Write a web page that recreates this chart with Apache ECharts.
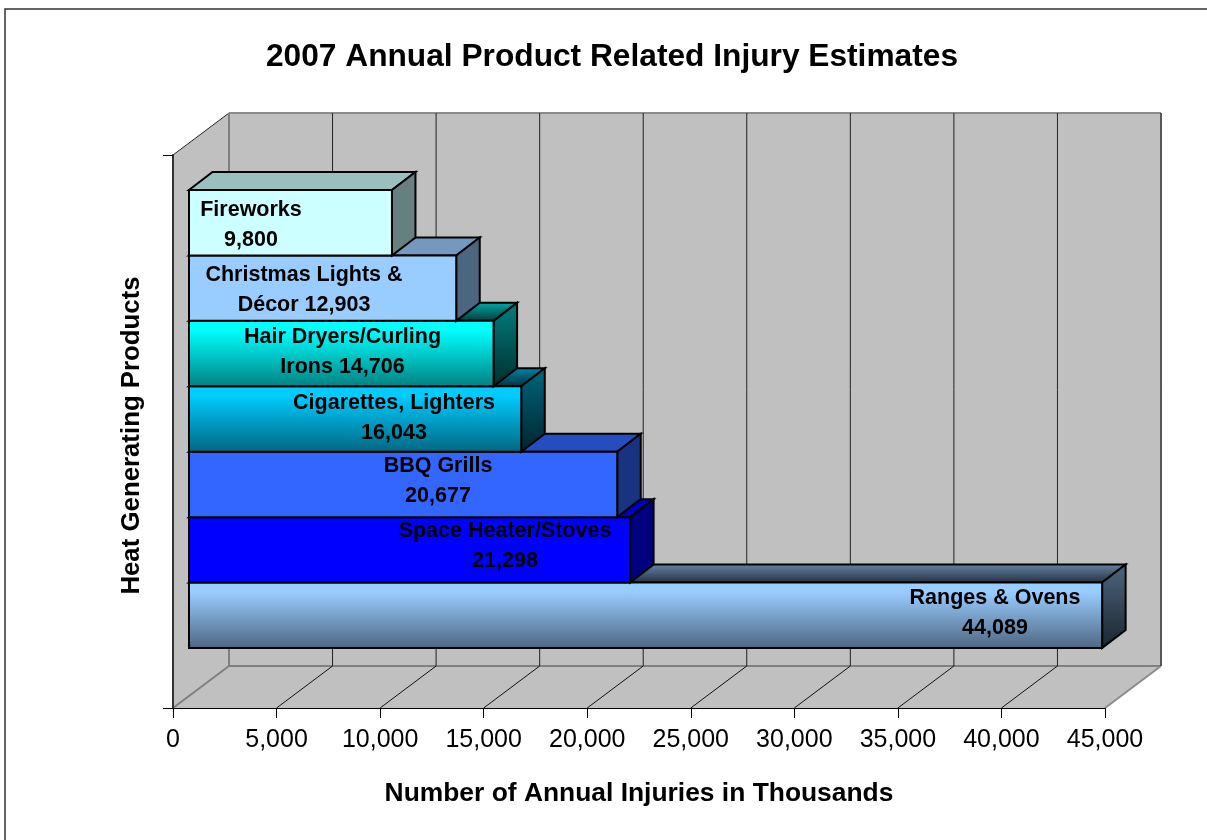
<!DOCTYPE html>
<html>
	<head>
		<meta charset="utf-8" />
		<title>2007 Annual Product Related Injury Estimates</title>
		<style type="text/css">
			body,
			html,
			#chart {
				width: 100%;
				height: 100%;
				overflow: hidden;
				margin: 0;
				background: #fff;
			}
		</style>
	</head>
	<body>
		<div id="chart"></div>
		<script src="https://cdn.jsdelivr.net/npm/echarts@6/dist/echarts.min.js"></script>
		<script>
			// data, bottom bar first so the upper bars paint over the top faces below them
			var categories = [
				'Ranges & Ovens\n',
				'Space Heater/Stoves\n',
				'BBQ Grills\n',
				'Cigarettes, Lighters\n',
				'Hair Dryers/Curling\nIrons ',
				'Christmas Lights &\nDécor ',
				'Fireworks\n'
			];
			var injuries = [44089, 21298, 20677, 16043, 14706, 12903, 9800];
			var xTicks = [0, 5000, 10000, 15000, 20000, 25000, 30000, 35000, 40000, 45000];

			// label placement inside each bar, the labels were dragged by hand in the original
			var labelOffsetX = [806, 316, 249, 205, 153.5, 115, 62];
			var labelOffsetY = [-2.5, -4, -3, -0.5, -1.5, 1.5, 2.5];

			// bar colours: [front top, front bottom]
			var barColors = [
				['#99CCFF', '#4D6680'],
				['#0000FF', '#0000FF'],
				['#3366FF', '#3366FF'],
				['#00CCFF', '#006680'],
				['#00FFFF', '#008080'],
				['#99CCFF', '#99CCFF'],
				['#CCFFFF', '#CCFFFF']
			];

			var WALL_DX = 56;
			var WALL_DY = -42;
			var BAR_DX = 23.5;
			var BAR_DY = -18;

			function shade(hex, k) {
				var n = parseInt(hex.slice(1), 16);
				var r = Math.round((n >> 16) * k);
				var g = Math.round(((n >> 8) & 255) * k);
				var b = Math.round((n & 255) * k);
				return 'rgb(' + r + ',' + g + ',' + b + ')';
			}

			function grad(top, bottom, start) {
				return new echarts.graphic.LinearGradient(0, 0, 0, 1, [
					{ offset: 0, color: top },
					{ offset: start, color: top },
					{ offset: 1, color: bottom }
				]);
			}

			function poly(points, fill, stroke, width) {
				return {
					type: 'polygon',
					shape: { points: points },
					style: { fill: fill, stroke: stroke, lineWidth: width, lineJoin: 'miter' }
				};
			}

			function seg(a, b, color, width) {
				return {
					type: 'line',
					shape: { x1: a[0], y1: a[1], x2: b[0], y2: b[1] },
					style: { stroke: color, lineWidth: width }
				};
			}

			function back(p) {
				return [p[0] + WALL_DX, p[1] + WALL_DY];
			}

			// side wall, back wall and floor
			function renderWalls(params, api) {
				var a = api.coord([0, 0]);
				var b = api.coord([45000, 0]);
				var c = api.coord([45000, 1]);
				var d = api.coord([0, 1]);
				return {
					type: 'group',
					children: [
						poly([back(a), back(b), back(c), back(d)], '#C0C0C0'),
						poly([a, back(a), back(d), d], '#C0C0C0'),
						poly([a, b, back(b), back(a)], '#C0C0C0'),
						seg(back(d), back(c), '#8C8C8C', 2),
						seg(back(c), back(b), '#8C8C8C', 2),
						seg(back(a), back(b), '#808080', 2),
						seg(back(b), b, '#8C8C8C', 2),
						seg(d, back(d), '#222222', 1),
						seg(a, back(a), '#808080', 2)
					]
				};
			}

			// grid line on the back wall plus its run across the floor
			function renderGridLine(params, api) {
				var v = api.value(0);
				var foot = api.coord([v, 0]);
				var top = api.coord([v, 1]);
				var first = v === 0;
				var children = [
					seg(back(foot), back(top), first ? '#808080' : '#222222', first ? 2 : 1)
				];
				if (!first && v !== 45000) {
					children.push(seg(foot, back(foot), '#111111', 1));
				}
				return { type: 'group', children: children };
			}

			function renderBar(params, api) {
				var i = params.dataIndex;
				var v = api.value(0);
				var mid = api.coord([0, i]);
				var end = api.coord([v, i]);
				var h = api.size([0, 1])[1];
				var x0 = mid[0];
				var x1 = end[0];
				var y0 = mid[1] - h / 2;
				var y1 = mid[1] + h / 2;
				var c = barColors[i];
				var flat = c[0] === c[1];
				var front = flat ? c[0] : grad(c[0], c[1], 0.15);
				var topFace = flat ? shade(c[0], 0.75) : grad(shade(c[0], 0.62), shade(c[1], 0.45), 0.1);
				var sideFace = flat ? shade(c[0], 0.5) : grad(shade(c[0], 0.5), shade(c[1], 0.35), 0);
				var label = categories[i] + v.toLocaleString('en-US');
				return {
					type: 'group',
					children: [
						poly([[x0, y0], [x1, y0], [x1 + BAR_DX, y0 + BAR_DY], [x0 + BAR_DX, y0 + BAR_DY]], topFace, '#000', 2),
						poly([[x1, y0], [x1 + BAR_DX, y0 + BAR_DY], [x1 + BAR_DX, y1 + BAR_DY], [x1, y1]], sideFace, '#000', 2),
						poly([[x0, y0], [x1, y0], [x1, y1], [x0, y1]], front, '#000', 2),
						{
							type: 'text',
							z2: 10,
							style: {
								text: label,
								x: x0 + labelOffsetX[i],
								y: mid[1] + labelOffsetY[i],
								align: 'center',
								verticalAlign: 'middle',
								fill: '#000',
								font: 'bold 21.5px "Liberation Sans"',
								lineHeight: 30
							}
						}
					]
				};
			}

			var myChart = echarts.init(document.getElementById('chart'));
			var option = {
				animation: false,
				backgroundColor: '#fff',
				textStyle: { fontFamily: 'Liberation Sans' },
				title: {
					text: '2007 Annual Product Related Injury Estimates',
					left: 607,
					top: 36,
					textAlign: 'center',
					textStyle: { fontSize: 31.7, fontWeight: 'bold', color: '#000', fontFamily: 'Liberation Sans' }
				},
				graphic: [
					{
						type: 'rect',
						silent: true,
						z: -1,
						shape: { x: 5, y: 9, width: 1300, height: 900 },
						style: { fill: 'none', stroke: '#333', lineWidth: 1.5 }
					}
				],
				grid: [
					{ left: 173, top: 155, width: 932, height: 553 },
					{ left: 189, top: 190, width: 932, height: 458 }
				],
				xAxis: [
					{
						type: 'value',
						gridIndex: 0,
						min: 0,
						max: 45000,
						interval: 5000,
						z: 5,
						name: 'Number of Annual Injuries in Thousands',
						nameLocation: 'middle',
						nameGap: 73,
						nameTextStyle: { fontSize: 26.4, fontWeight: 'bold', color: '#000', fontFamily: 'Liberation Sans' },
						axisLine: { show: true, lineStyle: { color: '#000', width: 1 } },
						axisTick: { show: true, length: 10, lineStyle: { color: '#000' } },
						splitLine: { show: false },
						axisLabel: {
							margin: 20,
							fontSize: 25,
							color: '#000',
							formatter: function (v) {
								return v.toLocaleString('en-US');
							}
						}
					},
					{ type: 'value', gridIndex: 1, min: 0, max: 45000, show: false }
				],
				yAxis: [
					{
						type: 'value',
						gridIndex: 0,
						min: 0,
						max: 1,
						interval: 1,
						z: 5,
						name: 'Heat Generating Products',
						nameLocation: 'middle',
						nameGap: 28,
						nameRotate: 90,
						nameTextStyle: { fontSize: 25.8, fontWeight: 'bold', color: '#000', fontFamily: 'Liberation Sans', padding: [0, 8, 0, 0] },
						axisLine: { show: true, lineStyle: { color: '#333', width: 2 } },
						axisTick: { show: true, length: 10, lineStyle: { color: '#000' } },
						axisLabel: { show: false },
						splitLine: { show: false }
					},
					{
						type: 'category',
						gridIndex: 1,
						data: categories,
						show: false
					}
				],
				series: [
					{
						type: 'custom',
						name: 'walls',
						xAxisIndex: 0,
						yAxisIndex: 0,
						z: 1,
						silent: true,
						data: [[0]],
						encode: { x: 0 },
						renderItem: renderWalls
					},
					{
						type: 'custom',
						name: 'gridlines',
						xAxisIndex: 0,
						yAxisIndex: 0,
						z: 2,
						silent: true,
						data: xTicks.map(function (t) {
							return [t];
						}),
						encode: { x: 0 },
						renderItem: renderGridLine
					},
					{
						type: 'custom',
						name: 'injuries',
						xAxisIndex: 1,
						yAxisIndex: 1,
						z: 3,
						data: injuries.map(function (v, i) {
							return [v, i];
						}),
						encode: { x: 0, y: 1 },
						renderItem: renderBar
					}
				]
			};
			myChart.setOption(option);
		</script>
	</body>
</html>
